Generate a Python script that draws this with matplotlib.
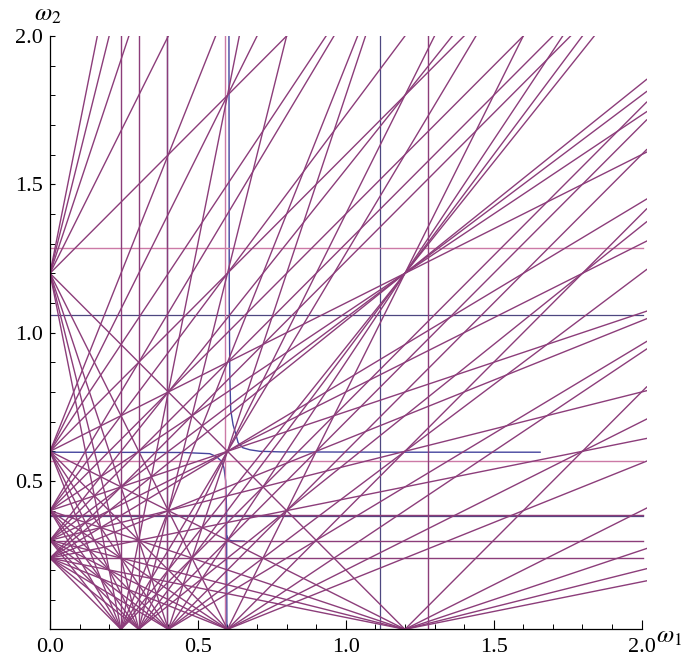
import matplotlib.pyplot as plt
import numpy as np

plt.rcParams['mathtext.fontset'] = 'stix'

# drive frequency and harmonic orders of the resonance lines n1*w1 + n2*w2 = drive
drive = 1.2
orders = [1, 2, 3, 4, 5]

# straight lines
purple_vert = [0.241, 0.302, 0.394, 1.277]
purple_horiz = [0.240, 0.299, 0.386]
pink_vert = [0.591]
pink_horiz = [0.569, 1.285]
blue_vert = [0.397, 1.115]
blue_horiz = [0.383, 1.059]

# blue curves (upper branch, lower branch, small piece near w2 = 0.3)
upper_w1 = [0.605, 0.606, 0.608, 0.611, 0.619, 0.629, 0.636, 0.652, 0.676, 0.71, 0.78, 1.2, 1.657]
upper_w2 = [2.0, 1.1, 0.85, 0.739, 0.689, 0.655, 0.629, 0.612, 0.605, 0.6, 0.598, 0.597, 0.597]
lower_w1 = [0.0, 0.45, 0.54, 0.563, 0.578, 0.588, 0.594, 0.597, 0.598]
lower_w2 = [0.597, 0.596, 0.592, 0.582, 0.568, 0.545, 0.5, 0.4, 0.0]
small_w1 = [0.598, 0.603, 0.615, 0.657]
small_w2 = [0.315, 0.302, 0.298, 0.297]

purple = (0.55, 0.24, 0.48)
pink = (0.80, 0.48, 0.65)
blue = (0.27, 0.27, 0.62)
grayblue = (0.30, 0.28, 0.50)
lw = 1.0
x_end = 2.017
h_end = 2.006

fig = plt.figure(figsize=(6.98, 6.69), dpi=100)
ax = fig.add_axes([50 / 698, 39.7 / 669, 596.6 / 698, 593.3 / 669])
ax.set_xlim(0, x_end)
ax.set_ylim(0, 2.0)

# blue
ax.plot(upper_w1, upper_w2, color=blue, lw=lw)
ax.plot(lower_w1, lower_w2, color=blue, lw=lw)
ax.plot(small_w1, small_w2, color=blue, lw=lw)
for v in blue_vert:
    ax.plot([v, v], [0, 2], color=grayblue, lw=0.9)
for h in blue_horiz:
    ax.plot([0, h_end], [h, h], color=grayblue, lw=0.9)

# pink
for v in pink_vert:
    ax.plot([v, v], [0, 2], color=pink, lw=lw)
for h in pink_horiz:
    ax.plot([0, h_end], [h, h], color=pink, lw=lw)

# purple resonance lines
w1 = np.array([0.0, x_end])
for m1 in orders:
    for m2 in orders:
        for n1, n2 in [(m1, m2), (-m1, m2), (m1, -m2)]:
            ax.plot(w1, (drive - n1 * w1) / n2, color=purple, lw=lw)
for v in purple_vert:
    ax.plot([v, v], [0, 2], color=purple, lw=lw)
for h in purple_horiz:
    ax.plot([0, h_end], [h, h], color=purple, lw=lw)

# axes, Mathematica style
for s in ['top', 'right']:
    ax.spines[s].set_visible(False)
ax.spines['bottom'].set_bounds(0, 2)
ax.spines['left'].set_bounds(0, 2)
for s in ['bottom', 'left']:
    ax.spines[s].set_linewidth(0.9)
    ax.spines[s].set_zorder(5)

ax.set_xticks([0, 0.5, 1.0, 1.5, 2.0])
ax.set_xticklabels(['0.0', '0.5', '1.0', '1.5', '2.0'])
ax.set_xticks(np.arange(1, 20) / 10, minor=True)
ax.set_yticks([0.5, 1.0, 1.5, 2.0])
ax.set_yticklabels(['0.5', '1.0', '1.5', '2.0'])
ax.set_yticks(np.arange(1, 20) / 10, minor=True)
ax.tick_params(axis='x', which='major', direction='in', length=6.5, width=0.8, pad=6)
ax.tick_params(axis='x', which='minor', direction='in', length=3.6, width=0.7)
ax.tick_params(axis='y', which='major', direction='in', length=3.8, width=0.8, pad=5)
ax.tick_params(axis='y', which='minor', direction='in', length=3.6, width=0.7)
for lab in ax.get_xticklabels() + ax.get_yticklabels():
    lab.set_fontfamily('Liberation Serif')
    lab.set_fontsize(16)

fig.text(656 / 698, 1 - 643 / 669, r'$\omega_1$', fontsize=18, ha='left', va='baseline')
fig.text(34 / 698, 1 - 21 / 669, r'$\omega_2$', fontsize=18, ha='left', va='baseline')

fig.savefig('out.png', dpi=100)
